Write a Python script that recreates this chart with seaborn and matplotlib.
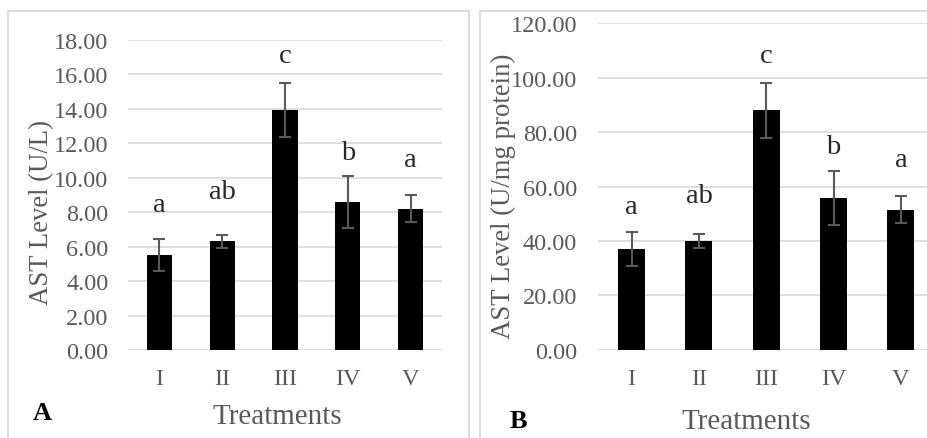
import matplotlib
matplotlib.use("Agg")
import matplotlib.pyplot as plt
from matplotlib.patches import Rectangle
import seaborn as sns
import pandas as pd

# ---- data ----
treatments = ["I", "II", "III", "IV", "V"]
ast_serum = [5.5, 6.3, 13.9, 8.57, 8.2]          # U/L
ast_serum_err = [0.93, 0.38, 1.57, 1.5, 0.8]
ast_tissue = [37.0, 40.0, 88.0, 55.8, 51.5]      # U/mg protein
ast_tissue_err = [6.2, 2.5, 10.0, 9.8, 4.9]
letters = ["a", "ab", "c", "b", "a"]
yticks_A = [0, 2, 4, 6, 8, 10, 12, 14, 16, 18]
yticks_B = [0, 20, 40, 60, 80, 100, 120]

# layout-only constants (letter baselines in data units)
letter_y_A = [8.08, 8.80, 16.69, 11.08, 10.69]
letter_y_B = [50.3, 54.2, 105.7, 72.3, 67.4]

sns.set_style("white")
plt.rcParams["font.family"] = ["Liberation Serif", "DejaVu Serif"]

W, H = 928, 439
fig = plt.figure(figsize=(W / 100, H / 100), dpi=100)
fig.patch.set_facecolor("white")

def px_axes(x0, x1, ytop, ybot):
    return fig.add_axes([x0 / W, 1 - ybot / H, (x1 - x0) / W, (ybot - ytop) / H])

# panel borders
border = "#d9d9d9"
fig.patches.append(Rectangle((8 / W, -0.2), (469 - 8) / W, 1.2 - 12 / H,
                             transform=fig.transFigure, fill=False,
                             edgecolor=border, lw=1.3, zorder=0))
fig.patches.append(Rectangle((480 / W, -0.2), 1.0, 1.2 - 12 / H,
                             transform=fig.transFigure, fill=False,
                             edgecolor=border, lw=1.3, zorder=0))

gray = "#595959"

def draw(ax, vals, errs, yticks, ylabel, letter_y, ylab_xy, xlab_xy, ypad):
    df = pd.DataFrame({"Treatments": treatments, "val": vals})
    sns.barplot(data=df, x="Treatments", y="val", color="black", width=0.4,
                saturation=1, linewidth=0, errorbar=None, ax=ax, zorder=3)
    ax.errorbar(range(len(vals)), vals, yerr=errs, fmt="none", ecolor=gray,
                elinewidth=1.5, capsize=4.3, capthick=1.5, zorder=4)
    ax.set_ylim(yticks[0], yticks[-1])
    ax.set_xlim(-0.5, len(vals) - 0.5)
    ax.set_yticks(yticks)
    ax.set_yticklabels([f"{t:.2f}" for t in yticks])
    ax.yaxis.grid(True, color="#d9d9d9", lw=1.2, zorder=0)
    ax.set_axisbelow(True)
    for s in ax.spines.values():
        s.set_visible(False)
    ax.tick_params(axis="both", length=0, labelsize=17.5, labelcolor=gray)
    ax.tick_params(axis="y", pad=ypad)
    ax.tick_params(axis="x", pad=13)
    ax.set_ylabel(ylabel, fontsize=19.3, color=gray)
    ax.yaxis.label.set_va("center")
    ax.yaxis.set_label_coords(*ylab_xy)
    ax.set_xlabel("Treatments", fontsize=21, color=gray)
    ax.xaxis.label.set_va("center")
    ax.xaxis.set_label_coords(*xlab_xy)
    for i, (lab, ly) in enumerate(zip(letters, letter_y)):
        ax.text(i, ly, lab, ha="center", va="baseline", fontsize=20.5,
                color="#262626")
    ax.set_facecolor("none")

axA = px_axes(128, 442, 40.7, 351)
draw(axA, ast_serum, ast_serum_err, yticks_A, "AST Level (U/L)", letter_y_A,
     (-0.274, 0.445), (0.4745, -0.2127), 14)

axB = px_axes(598, 934.5, 24.3, 350.7)
draw(axB, ast_tissue, ast_tissue_err, yticks_B, "AST Level (U/mg protein)",
     letter_y_B, (-0.28, 0.472), (0.442, -0.2175), 15)

fig.text(42 / W, 1 - 414 / H, "A", fontsize=19, fontweight="bold",
         ha="center", va="center", color="black")
fig.text(518 / W, 1 - 421.7 / H, "B", fontsize=19, fontweight="bold",
         ha="center", va="center", color="black")

fig.savefig("out.png", dpi=100)
